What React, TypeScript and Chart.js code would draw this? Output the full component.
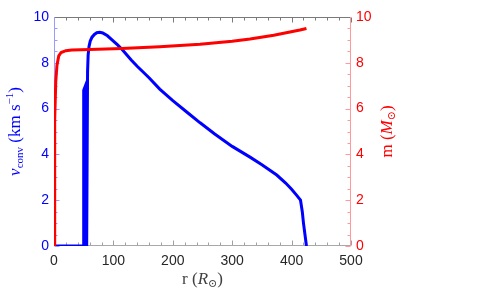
import React, { useEffect, useRef } from "react";
import { Chart, registerables } from "chart.js";
Chart.register(...registerables);

// Convective velocity (blue, left axis)
const vR = [0, 49, 50, 51.5, 53, 55, 56.5, 57.5, 59, 61, 64, 68, 72, 77, 82, 90, 100, 107, 114, 122, 130, 140, 150, 160, 178, 200, 225, 246, 270, 300, 330, 350, 375, 390, 400, 409, 415, 418, 420, 425];
const vV = [0, 0, 6.8, 6.9, 0, 0, 7.6, 8.35, 8.72, 8.95, 9.12, 9.24, 9.31, 9.33, 9.3, 9.18, 8.95, 8.78, 8.6, 8.36, 8.12, 7.85, 7.6, 7.35, 6.85, 6.35, 5.82, 5.38, 4.9, 4.35, 3.88, 3.55, 3.1, 2.75, 2.48, 2.2, 2.0, 1.5, 1.0, 0];
// Enclosed mass (red, right axis)
const mR = [0, 0.8, 1.5, 3, 5, 8, 12, 20, 30, 60, 114, 178, 246, 300, 330, 370, 414, 425];
const mM = [0, 3, 5.5, 7.2, 7.9, 8.3, 8.45, 8.53, 8.56, 8.58, 8.62, 8.7, 8.81, 8.94, 9.04, 9.2, 9.43, 9.5];

const xMin = 0, xMax = 500, xStep = 100, xMinor = 20;
const yMin = 0, yMax = 10, yStep = 2, yMinor = 0.5;

const SERIF = "'Liberation Serif', 'DejaVu Serif', serif";
const SANS = "'Liberation Sans', Arial, Helvetica, sans-serif";

type Part = { t: string; size: number; italic?: boolean; dy?: number };

function drawRich(ctx: CanvasRenderingContext2D, parts: Part[], cx: number, cy: number, rot: number, color: string) {
  ctx.save();
  ctx.translate(cx, cy);
  ctx.rotate(rot);
  ctx.fillStyle = color;
  ctx.textBaseline = "alphabetic";
  ctx.textAlign = "left";
  let total = 0;
  const widths: number[] = [];
  for (const p of parts) {
    ctx.font = `${p.italic ? "italic " : ""}${p.size}px ${SERIF}`;
    const w = ctx.measureText(p.t).width;
    widths.push(w);
    total += w;
  }
  let x = -total / 2;
  parts.forEach((p, i) => {
    ctx.font = `${p.italic ? "italic " : ""}${p.size}px ${SERIF}`;
    ctx.fillText(p.t, x, 5 + (p.dy || 0));
    x += widths[i];
  });
  ctx.restore();
}

const decoPlugin = {
  id: "deco",
  beforeDatasetsDraw(chart: any) {
    const { ctx, chartArea, scales } = chart;
    const { left, right, top, bottom } = chartArea;
    const line = (x1: number, y1: number, x2: number, y2: number, c: string) => {
      ctx.beginPath();
      ctx.strokeStyle = c;
      ctx.lineWidth = 1;
      ctx.moveTo(x1, y1);
      ctx.lineTo(x2, y2);
      ctx.stroke();
    };
    ctx.save();
    const L = Math.round(left) + 0.5, R = Math.round(right) - 0.5, T = Math.round(top) + 0.5, B = Math.round(bottom) - 0.5;
    for (let v = xMin; v <= xMax + 1e-9; v += xMinor) {
      const px = Math.round(scales.x.getPixelForValue(v)) + 0.5;
      const major = Math.abs(v % xStep) < 1e-9;
      const len = major ? 5 : 3;
      line(px, B, px, B - len, "#a0a0a0");
      line(px, T, px, T + len, "#7a7a7a");
    }
    for (let v = yMin; v <= yMax + 1e-9; v += yMinor) {
      const py = Math.round(scales.y.getPixelForValue(v)) + 0.5;
      const major = Math.abs(v % yStep) < 1e-9;
      const len = major ? 5 : 3;
      line(L, py, L + len, py, "#9a9aff");
      line(R, py, R - len, py, "#ff9a9a");
    }
    line(left, T, right, T, "#7a7a7a");
    line(left, B, right, B, "#a8a8a8");
    line(L, top, L, bottom, "#9a9aff");
    line(R, top, R, bottom, "#ff9a9a");
    ctx.restore();
  },
  afterDraw(chart: any) {
    const { ctx, chartArea } = chart;
    const cy = (chartArea.top + chartArea.bottom) / 2;
    const cx = (chartArea.left + chartArea.right) / 2;
    drawRich(ctx, [
      { t: "v", size: 17, italic: true },
      { t: "conv", size: 11, dy: 3 },
      { t: " (km s", size: 17 },
      { t: "\u22121", size: 11, dy: -7 },
      { t: ")", size: 17 },
    ], 15, cy, -Math.PI / 2, "#0000ff");
    drawRich(ctx, [
      { t: "m (", size: 17 },
      { t: "M", size: 17, italic: true },
      { t: "\u2299", size: 11, dy: 3 },
      { t: ")", size: 17 },
    ], 387, cy, -Math.PI / 2, "#ff0000");
    drawRich(ctx, [
      { t: "r (", size: 17 },
      { t: "R", size: 17, italic: true },
      { t: "\u2299", size: 11, dy: 3 },
      { t: ")", size: 17 },
    ], cx, 279, 0, "#404040");
  },
};

export default function App() {
  const ref = useRef<HTMLCanvasElement | null>(null);
  useEffect(() => {
    document.body.style.margin = "0";
    const canvas = ref.current!;
    const chart = new Chart(canvas, {
      type: "line",
      data: {
        datasets: [
          {
            label: "m",
            data: mR.map((r, i) => ({ x: r, y: mM[i] })),
            borderColor: "#ff0000",
            borderWidth: 3,
            pointRadius: 0,
            tension: 0,
            yAxisID: "y2",
            order: 0,
          },
          {
            label: "v",
            data: vR.map((r, i) => ({ x: r, y: vV[i] })),
            borderColor: "#0000ff",
            borderWidth: 3,
            pointRadius: 0,
            tension: 0,
            yAxisID: "y",
            order: 1,
          },
        ],
      },
      options: {
        responsive: false,
        animation: false,
        devicePixelRatio: 1,
        layout: { padding: { top: 17, left: 0, right: 0, bottom: 0 } },
        plugins: { legend: { display: false }, tooltip: { enabled: false } },
        scales: {
          x: {
            type: "linear",
            min: xMin,
            max: xMax,
            grid: { display: false, drawTicks: false },
            border: { display: false },
            ticks: { stepSize: xStep, color: "#262626", font: { size: 14, family: SANS }, padding: 7, maxRotation: 0 },
            afterFit: (s: any) => { s.height = 50; },
          },
          y: {
            type: "linear",
            position: "left",
            min: yMin,
            max: yMax,
            grid: { display: false, drawTicks: false },
            border: { display: false },
            ticks: { stepSize: yStep, color: "#0000ff", font: { size: 14, family: SANS }, padding: 5 },
            afterFit: (s: any) => { s.width = 54; },
          },
          y2: {
            type: "linear",
            position: "right",
            min: yMin,
            max: yMax,
            grid: { display: false, drawTicks: false },
            border: { display: false },
            ticks: { stepSize: yStep, color: "#ff0000", font: { size: 14, family: SANS }, padding: 5 },
            afterFit: (s: any) => { s.width = 126; },
          },
        },
      },
      plugins: [decoPlugin],
    } as any);
    return () => chart.destroy();
  }, []);
  return <canvas ref={ref} width={477} height={296} style={{ display: "block" }} />;
}
